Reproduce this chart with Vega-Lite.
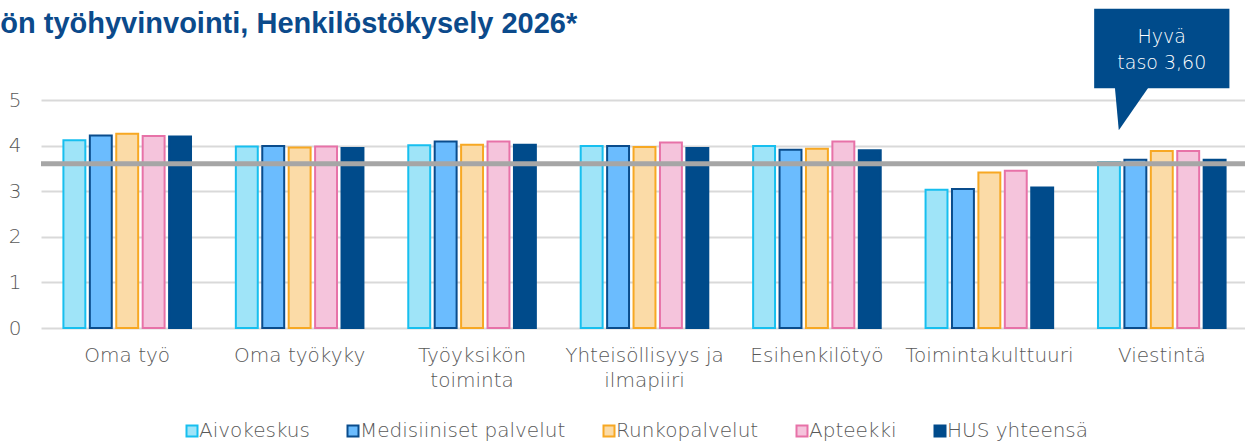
{
  "$schema": "https://vega.github.io/schema/vega-lite/v6.json",
  "width": 1207,
  "height": 228,
  "padding": {"left": 0, "top": 8, "right": 0, "bottom": 0},
  "autosize": {"type": "pad"},
  "background": "white",
  "title": {
    "text": "ön työhyvinvointi, Henkilöstökysely 2026*",
    "anchor": "start",
    "frame": "bounds",
    "font": "Liberation Sans",
    "fontSize": 29,
    "fontWeight": "bold",
    "color": "#0B4A8B",
    "offset": -30,
    "dx": -8
  },
  "config": {"view": {"stroke": null}, "font": "DejaVu Sans"},
  "datasets": {
    "arvot": [
      {"kategoria": "Oma työ", "ryhma": "Aivokeskus", "arvo": 4.12},
      {"kategoria": "Oma työ", "ryhma": "Medisiiniset palvelut", "arvo": 4.22},
      {"kategoria": "Oma työ", "ryhma": "Runkopalvelut", "arvo": 4.26},
      {"kategoria": "Oma työ", "ryhma": "Apteekki", "arvo": 4.21},
      {"kategoria": "Oma työ", "ryhma": "HUS yhteensä", "arvo": 4.2},
      {"kategoria": "Oma työkyky", "ryhma": "Aivokeskus", "arvo": 3.98},
      {"kategoria": "Oma työkyky", "ryhma": "Medisiiniset palvelut", "arvo": 3.99},
      {"kategoria": "Oma työkyky", "ryhma": "Runkopalvelut", "arvo": 3.96},
      {"kategoria": "Oma työkyky", "ryhma": "Apteekki", "arvo": 3.98},
      {"kategoria": "Oma työkyky", "ryhma": "HUS yhteensä", "arvo": 3.95},
      {"kategoria": "Työyksikön toiminta", "ryhma": "Aivokeskus", "arvo": 4.01},
      {"kategoria": "Työyksikön toiminta", "ryhma": "Medisiiniset palvelut", "arvo": 4.09},
      {"kategoria": "Työyksikön toiminta", "ryhma": "Runkopalvelut", "arvo": 4.02},
      {"kategoria": "Työyksikön toiminta", "ryhma": "Apteekki", "arvo": 4.09},
      {"kategoria": "Työyksikön toiminta", "ryhma": "HUS yhteensä", "arvo": 4.02},
      {"kategoria": "Yhteisöllisyys ja ilmapiiri", "ryhma": "Aivokeskus", "arvo": 3.99},
      {"kategoria": "Yhteisöllisyys ja ilmapiiri", "ryhma": "Medisiiniset palvelut", "arvo": 3.99},
      {"kategoria": "Yhteisöllisyys ja ilmapiiri", "ryhma": "Runkopalvelut", "arvo": 3.97},
      {"kategoria": "Yhteisöllisyys ja ilmapiiri", "ryhma": "Apteekki", "arvo": 4.07},
      {"kategoria": "Yhteisöllisyys ja ilmapiiri", "ryhma": "HUS yhteensä", "arvo": 3.95},
      {"kategoria": "Esihenkilötyö", "ryhma": "Aivokeskus", "arvo": 3.99},
      {"kategoria": "Esihenkilötyö", "ryhma": "Medisiiniset palvelut", "arvo": 3.91},
      {"kategoria": "Esihenkilötyö", "ryhma": "Runkopalvelut", "arvo": 3.93},
      {"kategoria": "Esihenkilötyö", "ryhma": "Apteekki", "arvo": 4.09},
      {"kategoria": "Esihenkilötyö", "ryhma": "HUS yhteensä", "arvo": 3.9},
      {"kategoria": "Toimintakulttuuri", "ryhma": "Aivokeskus", "arvo": 3.03},
      {"kategoria": "Toimintakulttuuri", "ryhma": "Medisiiniset palvelut", "arvo": 3.05},
      {"kategoria": "Toimintakulttuuri", "ryhma": "Runkopalvelut", "arvo": 3.41},
      {"kategoria": "Toimintakulttuuri", "ryhma": "Apteekki", "arvo": 3.45},
      {"kategoria": "Toimintakulttuuri", "ryhma": "HUS yhteensä", "arvo": 3.08},
      {"kategoria": "Viestintä", "ryhma": "Aivokeskus", "arvo": 3.64},
      {"kategoria": "Viestintä", "ryhma": "Medisiiniset palvelut", "arvo": 3.69},
      {"kategoria": "Viestintä", "ryhma": "Runkopalvelut", "arvo": 3.88},
      {"kategoria": "Viestintä", "ryhma": "Apteekki", "arvo": 3.88},
      {"kategoria": "Viestintä", "ryhma": "HUS yhteensä", "arvo": 3.69}
    ],
    "raja": [{"taso": 3.6}],
    "selite": [{"kategoria": "Viestintä", "yla": 7.0, "ala": 5.26, "keski": 6.38, "teksti": ["Hyvä", "taso 3,60"]}]
  },
  "layer": [
    {
      "data": {"name": "arvot"},
      "mark": {"type": "bar", "strokeWidth": 2},
      "encoding": {
        "x": {
          "field": "kategoria",
          "type": "nominal",
          "sort": ["Oma työ", "Oma työkyky", "Työyksikön toiminta", "Yhteisöllisyys ja ilmapiiri", "Esihenkilötyö", "Toimintakulttuuri", "Viestintä"],
          "scale": {"paddingInner": 0.26, "paddingOuter": 0.13},
          "axis": {
            "title": null,
            "labelAngle": 0,
            "domain": false,
            "ticks": false,
            "labelPadding": 17,
            "labelFontSize": 20,
            "labelFontWeight": 300,
            "labelColor": "#595959",
            "labelLineHeight": 25,
            "labelBaseline": "top",
            "labelLimit": 300,
            "labelExpr": "datum.label == 'Työyksikön toiminta' ? ['Työyksikön', 'toiminta'] : datum.label == 'Yhteisöllisyys ja ilmapiiri' ? ['Yhteisöllisyys ja', 'ilmapiiri'] : datum.label"
          }
        },
        "xOffset": {
          "field": "ryhma",
          "type": "nominal",
          "sort": ["Aivokeskus", "Medisiiniset palvelut", "Runkopalvelut", "Apteekki", "HUS yhteensä"],
          "scale": {"paddingInner": 0.17}
        },
        "y": {
          "field": "arvo",
          "type": "quantitative",
          "scale": {"domain": [0, 5], "nice": false},
          "axis": {
            "title": null,
            "values": [0, 1, 2, 3, 4, 5],
            "domain": false,
            "ticks": false,
            "labelPadding": 20,
            "labelFontSize": 20,
            "labelFontWeight": 300,
            "labelColor": "#595959",
            "gridColor": "#d9d9d9",
            "gridWidth": 2
          }
        },
        "fill": {
          "field": "ryhma",
          "type": "nominal",
          "sort": ["Aivokeskus", "Medisiiniset palvelut", "Runkopalvelut", "Apteekki", "HUS yhteensä"],
          "scale": {
            "domain": ["Aivokeskus", "Medisiiniset palvelut", "Runkopalvelut", "Apteekki", "HUS yhteensä"],
            "range": ["#9fe4f8", "#6bbcfe", "#fbdba7", "#f5c4dc", "#004b8b"]
          },
          "legend": {
            "title": null,
            "orient": "none",
            "direction": "horizontal",
            "columns": 5,
            "legendX": 141,
            "legendY": 321,
            "symbolType": "square",
            "symbolSize": 121,
            "symbolStrokeWidth": 2,
            "labelFontSize": 20,
            "labelFontWeight": 300,
            "labelColor": "#595959",
            "labelOffset": -3,
            "labelLimit": 400,
            "columnPadding": 33
          }
        },
        "stroke": {
          "field": "ryhma",
          "type": "nominal",
          "scale": {
            "domain": ["Aivokeskus", "Medisiiniset palvelut", "Runkopalvelut", "Apteekki", "HUS yhteensä"],
            "range": ["#17bfef", "#0a4c8c", "#f7a823", "#e772a8", "#004b8b"]
          },
          "legend": {
            "title": null,
            "orient": "none",
            "direction": "horizontal",
            "columns": 5,
            "legendX": 141,
            "legendY": 321,
            "symbolType": "square",
            "symbolSize": 121,
            "symbolStrokeWidth": 2,
            "labelFontSize": 20,
            "labelFontWeight": 300,
            "labelColor": "#595959",
            "labelOffset": -3,
            "labelLimit": 400,
            "columnPadding": 33
          }
        }
      }
    },
    {
      "data": {"name": "raja"},
      "mark": {"type": "rule", "color": "#a6a6a6", "strokeWidth": 5},
      "encoding": {"y": {"field": "taso", "type": "quantitative"}}
    },
    {
      "data": {"name": "selite"},
      "mark": {"type": "bar", "color": "#004b8b", "width": {"band": 1.06}, "clip": false},
      "encoding": {
        "x": {"field": "kategoria", "type": "nominal", "sort": ["Oma työ", "Oma työkyky", "Työyksikön toiminta", "Yhteisöllisyys ja ilmapiiri", "Esihenkilötyö", "Toimintakulttuuri", "Viestintä"]},
        "y": {"field": "yla", "type": "quantitative"},
        "y2": {"field": "ala"}
      }
    },
    {
      "data": {"name": "selite"},
      "mark": {"type": "point", "filled": true, "color": "#004b8b", "opacity": 1, "size": 10000, "shape": "M -0.94 -0.04 L -0.25 -0.04 L -0.86 0.84 Z", "clip": false},
      "encoding": {
        "x": {"field": "kategoria", "type": "nominal", "sort": ["Oma työ", "Oma työkyky", "Työyksikön toiminta", "Yhteisöllisyys ja ilmapiiri", "Esihenkilötyö", "Toimintakulttuuri", "Viestintä"]},
        "y": {"field": "ala", "type": "quantitative"}
      }
    },
    {
      "data": {"name": "selite"},
      "mark": {"type": "text", "color": "white", "fontSize": 19, "fontWeight": 300, "lineHeight": 26, "align": "center", "baseline": "middle", "clip": false},
      "encoding": {
        "x": {"field": "kategoria", "type": "nominal", "sort": ["Oma työ", "Oma työkyky", "Työyksikön toiminta", "Yhteisöllisyys ja ilmapiiri", "Esihenkilötyö", "Toimintakulttuuri", "Viestintä"]},
        "y": {"field": "keski", "type": "quantitative"},
        "text": {"field": "teksti"}
      }
    }
  ]
}
